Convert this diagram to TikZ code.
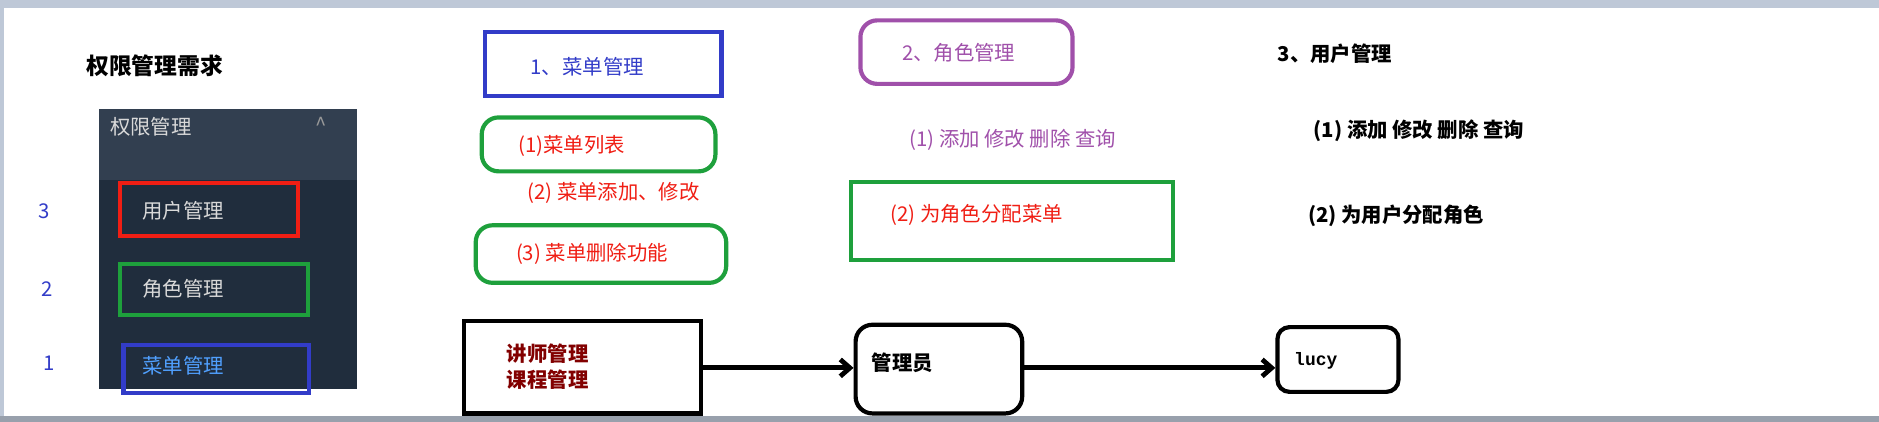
\documentclass[tikz,border=0pt]{standalone}
\usepackage{fontspec}
\setmainfont{Noto Sans CJK SC}
\newfontfamily\monof{Liberation Mono}
\usetikzlibrary{arrows.meta}
\definecolor{pblue}{RGB}{50,60,200}
\definecolor{pgreen}{RGB}{30,160,60}
\definecolor{pred}{RGB}{240,30,20}
\definecolor{ppurple}{RGB}{160,80,170}
\definecolor{dred}{RGB}{130,0,0}
\definecolor{panel}{RGB}{32,45,61}
\definecolor{panelh}{RGB}{50,63,80}
\definecolor{ltblue}{RGB}{80,160,255}
\definecolor{frame}{RGB}{190,200,215}
\tikzset{
 txt/.style={font=\fontsize{17}{21}\selectfont,inner sep=0pt},
 btxt/.style={txt,font=\fontsize{17}{21}\selectfont\bfseries},
 menu/.style={txt,text=white!85!black},
 rbox/.style={draw,line width=3.5pt,rounded corners=14pt},
 sbox/.style={draw,line width=3.5pt},
 conn/.style={line width=4pt,-{Straight Barb[length=8pt,width=14pt]}}
}
\begin{document}
\begin{tikzpicture}[x=1pt,y=-1pt]
\useasboundingbox (0,0) rectangle (1568,352);
\fill[white] (0,0) rectangle (1568,352);
\fill[frame] (0,0) rectangle (1568,7);
\fill[frame!80!black] (0,347) rectangle (1568,352);
\fill[frame] (0,7) rectangle (3,347);
\node[btxt,font=\fontsize{19}{21}\selectfont\bfseries] (title) at (129,55) {权限管理需求};
% panel
\fill[panel] (83,91) rectangle (298,325);
\fill[panelh] (83,91) rectangle (298,150);
\node[menu] (ph) at (126,106) {权限管理};
\node[txt,text=white!60!black] (caret) at (268,104) {\^{}};
\node[sbox,draw=pred,minimum width=149pt,minimum height=44pt] (u) at (174.5,175) {};
\node[menu] (ut) at (153,176) {用户管理};
\node[sbox,draw=pgreen,minimum width=157pt,minimum height=43pt] (r) at (178.5,241.5) {};
\node[menu] (rt) at (153,241) {角色管理};
\node[sbox,draw=pblue,minimum width=155pt,minimum height=40pt] (m) at (180.5,308) {};
\node[menu,text=ltblue] (mt) at (153,305) {菜单管理};
\node[txt,text=pblue,font=\fontsize{17}{20}\selectfont\rmfamily] (n3) at (37,176) {3};
\node[txt,text=pblue,font=\fontsize{17}{20}\selectfont\rmfamily] (n2) at (39,241) {2};
\node[txt,text=pblue,font=\fontsize{17}{20}\selectfont\rmfamily] (n1) at (41,303) {1};
% menu column
\node[sbox,draw=pblue,minimum width=197pt,minimum height=53pt] (b1) at (503.5,53.5) {};
\node[txt,text=pblue] (t1) at (490,56) {1、菜单管理};
\node[rbox,draw=pgreen,minimum width=195pt,minimum height=45pt] (g1) at (499.5,120.5) {};
\node[txt,text=pred] (t11) at (477,122) {(1)菜单列表};
\node[txt,text=pred] (t12) at (512,161) {(2) 菜单添加、修改};
\node[rbox,draw=pgreen,minimum width=209pt,minimum height=48pt] (g2) at (501.5,212) {};
\node[txt,text=pred] (t13) at (494,212) {(3) 菜单删除功能};
% role column
\node[rbox,draw=ppurple,minimum width=177pt,minimum height=53pt] (p2) at (806.5,43.5) {};
\node[txt,text=ppurple] (t2) at (800,44) {2、角色管理};
\node[txt,text=ppurple] (t21) at (845,117) {(1) 添加 修改 删除 查询};
\node[sbox,draw=pgreen,minimum width=269pt,minimum height=65pt] (g3) at (844.5,184.5) {};
\node[txt,text=pred] (t22) at (815,179) {(2) 为角色分配菜单};
% user column
\node[btxt] (t3) at (1114,45) {3、用户管理};
\node[btxt] (t31) at (1184,109) {(1) 添加 修改 删除 查询};
\node[btxt] (t32) at (1165,180) {(2) 为用户分配角色};
% bottom
\node[sbox,minimum width=198pt,minimum height=77pt] (c) at (486,306.5) {};
\node[btxt,text=dred,font=\fontsize{17}{22}\selectfont\bfseries,align=left] (ct) at (457,306) {讲师管理\\课程管理};
\node[rbox,minimum width=139pt,minimum height=74pt] (a) at (783.5,308) {};
\node[btxt] (at) at (753,303) {管理员};
\node[rbox,rounded corners=10pt,minimum width=101pt,minimum height=54pt] (l) at (1116.5,300) {};
\node[txt,font=\fontsize{15}{20}\selectfont\monof\bfseries] (lt) at (1098,301) {lucy};
\draw[conn] (c.east |- 0,307) -- (a.west |- 0,307);
\draw[conn] (a.east |- 0,307) -- (l.west |- 0,307);
\end{tikzpicture}
\end{document}
